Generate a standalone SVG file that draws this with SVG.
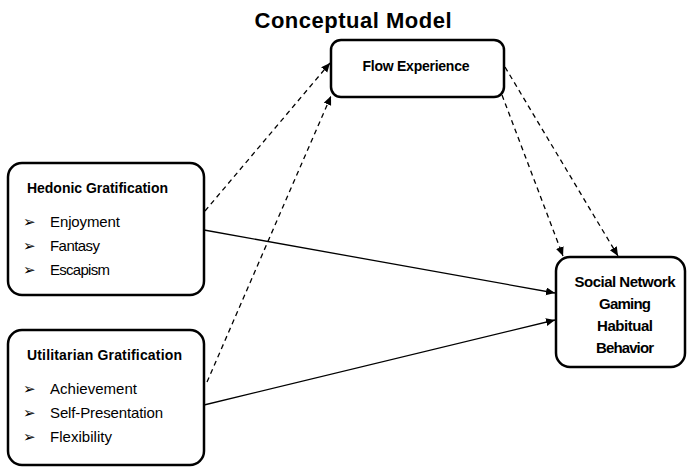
<svg xmlns="http://www.w3.org/2000/svg" width="687" height="468" viewBox="0 0 687 468">
<style>
.box{fill:#fff;stroke:#000;stroke-width:2.5}
.t{font-family:"Liberation Sans",Arial,sans-serif;fill:#000}
.b{font-weight:bold}
.it{font-size:15px}
.bul{font-family:"DejaVu Sans",sans-serif;font-size:15px;fill:#000}
.ln{stroke:#000;stroke-width:1.3;fill:none}
.dash{stroke-dasharray:5,4}
</style>
<defs>
<marker id="ah" markerUnits="userSpaceOnUse" markerWidth="10" markerHeight="10" refX="9" refY="4" orient="auto">
<path d="M0,0 L9,4 L0,8 Z" fill="#000"/>
</marker>
</defs>
<text class="t b" x="353" y="28" font-size="22" text-anchor="middle" textLength="197">Conceptual Model</text>
<g id="connectors">
<line class="ln dash" x1="205" y1="211" x2="330" y2="63" marker-end="url(#ah)"/>
<line class="ln dash" x1="207" y1="382" x2="331" y2="96" marker-end="url(#ah)"/>
<line class="ln dash" x1="505" y1="67" x2="618" y2="256" marker-end="url(#ah)"/>
<line class="ln dash" x1="502" y1="95" x2="563" y2="256" marker-end="url(#ah)"/>
<line class="ln" x1="204" y1="230" x2="555" y2="293" marker-end="url(#ah)"/>
<line class="ln" x1="204" y1="405" x2="555" y2="320" marker-end="url(#ah)"/>
</g>
<g id="flow">
<rect class="box" x="331" y="40" width="173" height="57" rx="10"/>
<text class="t b" x="416" y="71" font-size="14" text-anchor="middle" textLength="107">Flow Experience</text>
</g>
<g id="hedonic">
<rect class="box" x="8" y="163" width="196" height="132" rx="14"/>
<text class="t b" x="27" y="193" font-size="14" textLength="141">Hedonic Gratification</text>
<text class="bul" x="23" y="227">➢</text>
<text class="t it" x="50" y="227" textLength="70">Enjoyment</text>
<text class="bul" x="23" y="251">➢</text>
<text class="t it" x="50" y="251" textLength="50">Fantasy</text>
<text class="bul" x="23" y="275">➢</text>
<text class="t it" x="50" y="275" textLength="60">Escapism</text>
</g>
<g id="utilitarian">
<rect class="box" x="8" y="330" width="196" height="135" rx="14"/>
<text class="t b" x="27" y="360" font-size="14" textLength="155">Utilitarian Gratification</text>
<text class="bul" x="23" y="394">➢</text>
<text class="t it" x="50" y="394" textLength="87">Achievement</text>
<text class="bul" x="23" y="418">➢</text>
<text class="t it" x="50" y="418" textLength="113">Self-Presentation</text>
<text class="bul" x="23" y="442">➢</text>
<text class="t it" x="50" y="442" textLength="62">Flexibility</text>
</g>
<g id="social">
<rect class="box" x="556" y="257" width="129" height="110" rx="14"/>
<text class="t b" x="625" y="287" font-size="15" text-anchor="middle" textLength="101">Social Network</text>
<text class="t b" x="625" y="309" font-size="15" text-anchor="middle" textLength="52">Gaming</text>
<text class="t b" x="625" y="331" font-size="15" text-anchor="middle" textLength="56">Habitual</text>
<text class="t b" x="625" y="353" font-size="15" text-anchor="middle" textLength="58">Behavior</text>
</g>
</svg>
